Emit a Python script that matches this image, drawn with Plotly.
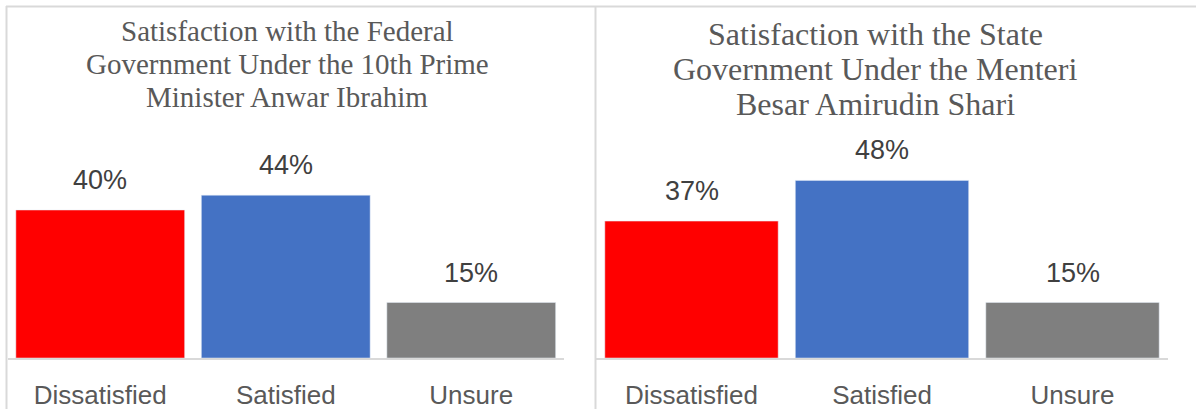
import plotly.graph_objects as go

categories = ["Dissatisfied", "Satisfied", "Unsure"]
federal_values = [40, 44, 15]
state_values = [37, 48, 15]
bar_colors = ["#FF0000", "#4472C4", "#7F7F7F"]
federal_title = ["Satisfaction with the Federal", "Government Under the 10th Prime", "Minister Anwar Ibrahim"]
state_title = ["Satisfaction with the State", "Government Under the Menteri", "Besar Amirudin Shari"]

W, H = 1196, 409
px = lambda x: x / W
py = lambda y: 1 - y / H

fig = go.Figure()
fig.add_trace(go.Bar(x=categories, y=federal_values, marker_color=bar_colors,
                     xaxis="x", yaxis="y", showlegend=False, hoverinfo="skip"))
fig.add_trace(go.Bar(x=categories, y=state_values, marker_color=bar_colors,
                     xaxis="x2", yaxis="y2", showlegend=False, hoverinfo="skip"))

yb, yt = 358, 140
ymax = (yb - yt) / 3.7
axis_common = dict(showline=True, linecolor="#D9D9D9", linewidth=1.5, showgrid=False,
                   ticks="", tickfont=dict(family="Liberation Sans", size=26, color="#595959"),
                   fixedrange=True, range=[-0.5, 2.5], ticklabelstandoff=13)
yaxis_common = dict(visible=False, range=[0, ymax], domain=[py(yb), py(yt)], fixedrange=True)

fig.update_layout(
    width=W, height=H, margin=dict(l=0, r=0, t=0, b=0),
    paper_bgcolor="white", plot_bgcolor="white", bargap=0.09,
    xaxis=dict(domain=[px(7.5), px(564)], anchor="y", **axis_common),
    yaxis=dict(anchor="x", **yaxis_common),
    xaxis2=dict(domain=[px(596.25), px(1167.75)], anchor="y2", **axis_common),
    yaxis2=dict(anchor="x2", **yaxis_common),
)

annotations = []
for xr, yr, vals in (("x", "y", federal_values), ("x2", "y2", state_values)):
    for c, v in zip(categories, vals):
        annotations.append(dict(x=c, y=v, xref=xr, yref=yr, text=f"{v}%", showarrow=False,
                                yanchor="middle", yshift=30,
                                font=dict(family="Liberation Sans", size=27, color="#404040")))

for lines, cx, ys, size in ((federal_title, 287, [31, 64, 97], 29),
                            (state_title, 875, [34, 69, 104], 32)):
    for t, cy in zip(lines, ys):
        annotations.append(dict(x=px(cx), y=py(cy), xref="paper", yref="paper", text=t,
                                showarrow=False, xanchor="center", yanchor="middle",
                                font=dict(family="Liberation Serif", size=size, color="#595959")))
fig.update_layout(annotations=annotations)

border = dict(color="#D9D9D9", width=2)
shapes = [
    dict(type="line", xref="paper", yref="paper", x0=px(6), x1=px(1200), y0=py(6.5), y1=py(6.5), line=border),
    dict(type="line", xref="paper", yref="paper", x0=px(6.5), x1=px(6.5), y0=py(6), y1=py(420), line=border),
    dict(type="line", xref="paper", yref="paper", x0=px(595.5), x1=px(595.5), y0=py(6), y1=py(420), line=border),
]
fig.update_layout(shapes=shapes)

fig.write_html("out.html", config={"displayModeBar": False},
               post_script="document.body.style.margin='0';document.body.style.overflow='hidden';")
